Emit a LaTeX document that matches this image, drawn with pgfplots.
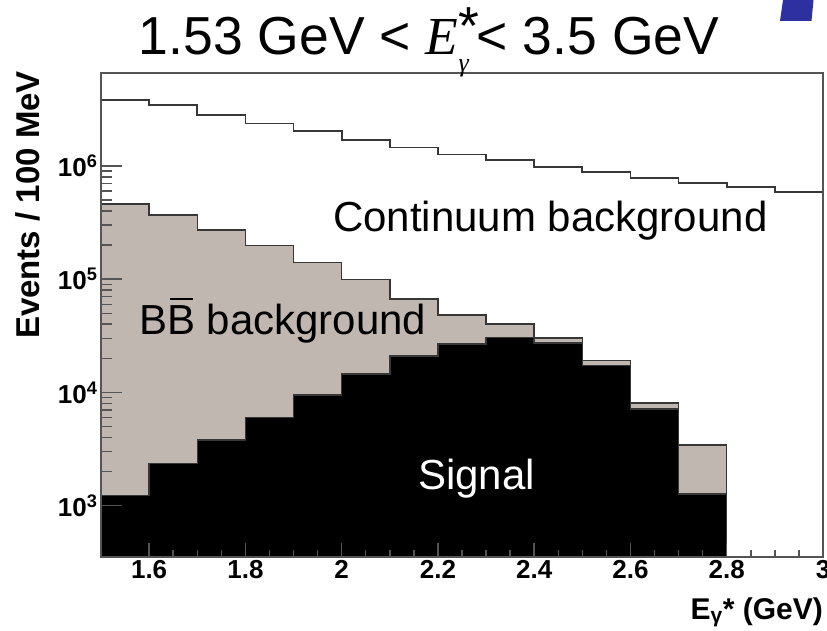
\documentclass[border=0pt]{standalone}
\usepackage{fontspec}
\setmainfont{Liberation Sans}
\newfontfamily\serifgr{Liberation Serif}
\usepackage{pgfplots}
\pgfplotsset{compat=1.18}

\definecolor{bbfill}{RGB}{192,184,176}
\definecolor{histline}{RGB}{55,55,55}
\definecolor{axisgray}{RGB}{85,85,85}
\definecolor{logoblue}{RGB}{44,48,160}

\begin{document}
\begin{tikzpicture}
\useasboundingbox (0,0) rectangle (827pt,-631pt);

% corner of the slide logo
\fill[logoblue] (783pt,0pt) -- (813.5pt,0pt) -- (811.5pt,-21pt) -- (780pt,-21pt) -- cycle;

\begin{axis}[
  at={(101pt,-73pt)}, anchor=north west,
  scale only axis, width=722pt, height=484pt,
  ymode=log,
  xmin=1.5, xmax=3, ymin=351.6, ymax=6.63e6,
  axis on top,
  axis line style={axisgray, line width=1.5pt},
  tick style={axisgray, line width=1.5pt},
  tick align=inside,
  xtick pos=left, ytick pos=left,
  major tick length=21pt, minor tick length=10.7pt,
  xtick style={/pgfplots/major tick length=14.5pt, /pgfplots/minor tick length=7pt},
  xtick={1.6,1.8,2,2.2,2.4,2.6,2.8,3},
  xticklabels={1.6,1.8,2,2.2,2.4,2.6,2.8,3},
  minor x tick num=3,
  ytick={1e3,1e4,1e5,1e6},
  yticklabels={10\textsuperscript{3},10\textsuperscript{4},10\textsuperscript{5},10\textsuperscript{6}},
  ticklabel style={font=\fontsize{26}{26}\selectfont\bfseries},
]
% B Bbar background (stacked on the signal)
\addplot[const plot, fill=bbfill, draw=histline, line width=1.5pt] coordinates {
  (1.5,4.62e5) (1.6,3.69e5) (1.7,2.72e5) (1.8,1.98e5) (1.9,1.41e5)
  (2.0,9.97e4) (2.1,6.68e4) (2.2,4.83e4) (2.3,4.00e4) (2.4,3.01e4)
  (2.5,1.91e4) (2.6,8.06e3) (2.7,3.43e3) (2.8,3.43e3)
} \closedcycle;
% signal
\addplot[const plot, fill=black, draw=histline, line width=1.5pt] coordinates {
  (1.5,1223) (1.6,2366) (1.7,3795) (1.8,6025) (1.9,9490)
  (2.0,14550) (2.1,21000) (2.2,26800) (2.3,30700) (2.4,27200)
  (2.5,17200) (2.6,7130) (2.7,1265) (2.8,1265)
} \closedcycle;
% continuum background
\addplot[const plot, draw=histline, line width=1.7pt] coordinates {
  (1.5,3.83e6) (1.6,3.46e6) (1.7,2.82e6) (1.8,2.38e6) (1.9,2.04e6)
  (2.0,1.70e6) (2.1,1.46e6) (2.2,1.26e6) (2.3,1.13e6) (2.4,9.86e5)
  (2.5,8.85e5) (2.6,7.88e5) (2.7,7.03e5) (2.8,6.56e5) (2.9,5.93e5)
  (3.0,5.93e5)
};
\end{axis}

% title
\node[anchor=base, inner sep=0pt, font=\fontsize{53.5}{53.5}\selectfont] at (429pt,-55pt)
  {1.53 GeV < {\serifgr\itshape E}\rlap{\raisebox{0.19em}{*}}\raisebox{-0.3em}{\fontsize{26}{26}\selectfont\serifgr\itshape γ}\kern0.15em< 3.5 GeV};

% labels inside the frame
\node[anchor=base west, inner sep=0pt, font=\fontsize{42}{42}\selectfont] at (333pt,-232pt) {Continuum background};
\node[anchor=base west, inner sep=0pt, font=\fontsize{42}{42}\selectfont] at (139pt,-334pt)
  {B\makebox[0pt][l]{\hspace{0.07em}\rule[0.81em]{0.54em}{0.055em}}B background};
\node[anchor=base west, inner sep=0pt, font=\fontsize{42}{42}\selectfont, text=white] at (418pt,-489pt) {Signal};

% axis titles
\node[anchor=base, inner sep=0pt, rotate=90, font=\fontsize{33}{33}\selectfont\bfseries] at (39pt,-205pt) {Events / 100 MeV};
\node[anchor=base east, inner sep=0pt, font=\fontsize{30}{30}\selectfont\bfseries] at (823pt,-619pt) {E\textsubscript{γ}* (GeV)};
\end{tikzpicture}
\end{document}
